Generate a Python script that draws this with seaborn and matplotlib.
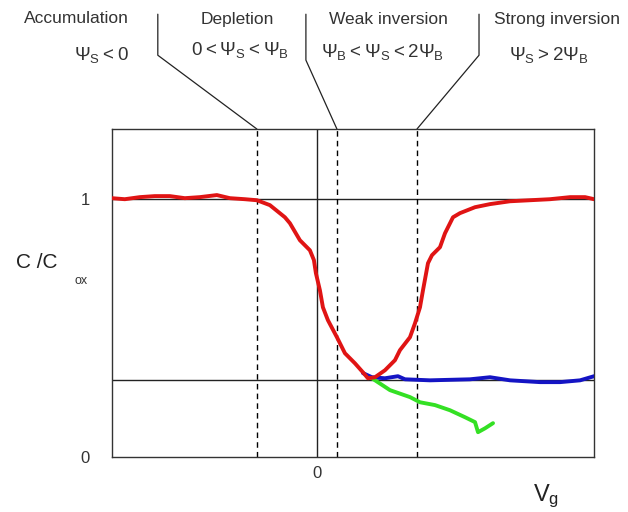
import numpy as np
import pandas as pd
from matplotlib import pyplot as plt
import seaborn as sns

# red: C/Cox, low frequency
red_vg = [-2.05, -1.92, -1.77, -1.62, -1.47, -1.32, -1.17, -1.00, -0.87, -0.72, -0.60, -0.47,
          -0.32, -0.27, -0.17, -0.07, -0.03, -0.01, 0.03, 0.06, 0.11, 0.20, 0.28, 0.38, 0.46,
          0.51, 0.58, 0.68, 0.78, 0.83, 0.93, 0.98, 1.03, 1.06, 1.11, 1.15, 1.23, 1.28, 1.36,
          1.43, 1.58, 1.73, 1.93, 2.13, 2.33, 2.53, 2.68, 2.77]
red_c = [1.004, 1.000, 1.008, 1.012, 1.012, 1.004, 1.008, 1.016, 1.004, 1.000, 0.996, 0.977,
         0.930, 0.907, 0.841, 0.802, 0.764, 0.713, 0.647, 0.581, 0.531, 0.465, 0.403, 0.364, 0.329,
         0.306, 0.310, 0.337, 0.376, 0.415, 0.465, 0.519, 0.581, 0.647, 0.752, 0.783, 0.814, 0.868, 0.930,
         0.946, 0.969, 0.981, 0.992, 0.996, 1.000, 1.008, 1.008, 1.000]

# blue: high frequency
blue_vg = [0.46, 0.55, 0.68, 0.81, 0.88, 1.13, 1.53, 1.73, 1.93, 2.23, 2.43, 2.63, 2.77]
blue_c = [0.326, 0.310, 0.306, 0.314, 0.302, 0.298, 0.302, 0.310, 0.298, 0.291, 0.291, 0.298, 0.314]

# green: deep depletion
green_vg = [0.55, 0.73, 0.93, 1.03, 1.18, 1.33, 1.48, 1.58, 1.61, 1.68, 1.76]
green_c = [0.306, 0.260, 0.233, 0.213, 0.202, 0.182, 0.155, 0.136, 0.097, 0.112, 0.132]

# region boundaries and labels
boundaries = [-0.6, 0.2, 1.0]
c_min = 0.3
region_names = ["Accumulation", "Depletion", "Weak inversion", "Strong inversion"]
region_conds = [r"$\mathregular{\Psi_S<0}$",
                r"$\mathregular{0<\Psi_S<\Psi_B}$",
                r"$\mathregular{\Psi_B<\Psi_S<2\Psi_B}$",
                r"$\mathregular{\Psi_S>2\Psi_B}$"]
leader_x = [-1.59, -0.11, 1.62]
leader_elbow = [1.558, 1.539, 1.558]

sns.set_style("white")
plt.rcParams['font.family'] = ['Liberation Sans', 'DejaVu Sans']
plt.rcParams['mathtext.fontset'] = 'custom'
plt.rcParams['mathtext.rm'] = 'Liberation Sans'

fig = plt.figure(figsize=(6.28, 5.12), dpi=100)
ax = fig.add_axes([0.178, 0.107, 0.768, 0.641])

xmin, xmax = -2.05, 2.77
ymin, ymax = 0, 1.272
ax.set_xlim(xmin, xmax)
ax.set_ylim(ymin, ymax)

ax.axhline(1, color='#222222', lw=1, zorder=1)
ax.axhline(c_min, color='#222222', lw=1, zorder=1)
ax.axvline(0, color='#222222', lw=1, zorder=1)
for b in boundaries:
    ax.axvline(b, color='black', lw=1, ls=(0, (4, 3)), zorder=1)

df_red = pd.DataFrame({"Vg": red_vg, "C": red_c})
df_blue = pd.DataFrame({"Vg": blue_vg, "C": blue_c})
df_green = pd.DataFrame({"Vg": green_vg, "C": green_c})
sns.lineplot(data=df_blue, x="Vg", y="C", color='#1414c4', lw=2.8, ax=ax, zorder=3)
sns.lineplot(data=df_green, x="Vg", y="C", color='#34e024', lw=2.8, ax=ax, zorder=3)
sns.lineplot(data=df_red, x="Vg", y="C", color='#e01414', lw=2.8, ax=ax, zorder=4)

ax.set_xticks([0])
ax.set_xticklabels(["0"])
ax.set_yticks([0, 1])
ax.set_yticklabels(["0", "1"])
ax.tick_params(axis='y', length=0, pad=16, labelsize=12, labelcolor='#333333')
ax.tick_params(axis='x', length=0, pad=6, labelsize=12, labelcolor='#333333')
ax.set_xlabel("")
ax.set_ylabel("")
for s in ax.spines.values():
    s.set_color('#333333')
    s.set_linewidth(1)

# leader lines from labels to region boundaries
for lx, ly, b in zip(leader_x, leader_elbow, boundaries):
    ax.plot([lx, lx, b], [1.717, ly, ymax], color='#222222', lw=0.9, clip_on=False)

name_pos = [(0.121, 0.963), (0.378, 0.961), (0.619, 0.961), (0.887, 0.961)]
cond_pos = [(0.162, 0.893), (0.382, 0.902), (0.609, 0.898), (0.874, 0.893)]
for name, (px, py) in zip(region_names, name_pos):
    fig.text(px, py, name, ha='center', va='center', fontsize=12.5, color='#333333')
for cond, (px, py) in zip(region_conds, cond_pos):
    fig.text(px, py, cond, ha='center', va='center', fontsize=13.5, color='#333333')

fig.text(0.059, 0.488, "C /C", ha='center', va='center', fontsize=15, color='#222222')
fig.text(0.129, 0.451, "ox", ha='center', va='center', fontsize=9, color='#333333')
fig.text(0.870, 0.030, r"$\mathregular{V_g}$", ha='center', va='center', fontsize=17, color='#222222')

plt.savefig("out.png", dpi=100)
